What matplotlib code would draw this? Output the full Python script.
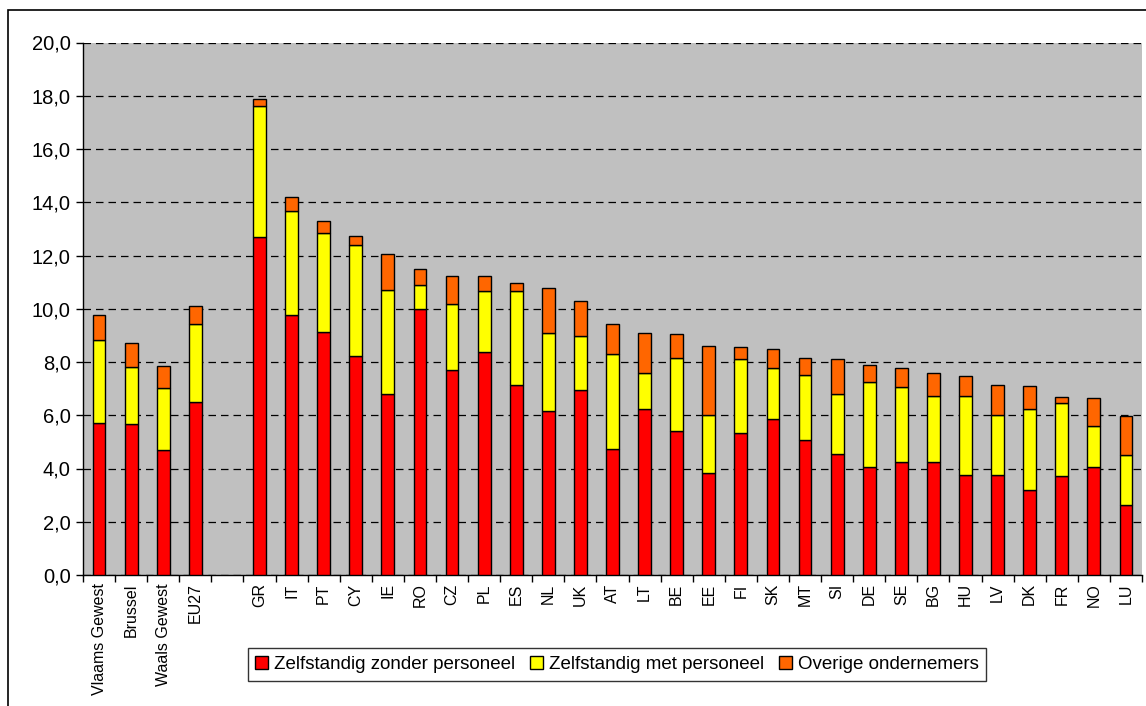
import numpy as np
import matplotlib.pyplot as plt
from matplotlib.patches import Rectangle, Patch
from matplotlib.ticker import FixedLocator

plt.rcParams['font.family'] = ['Liberation Sans', 'DejaVu Sans']

# Gewesten en EU27
regions = ['Vlaams Gewest', 'Brussel', 'Waals Gewest', 'EU27']
reg_zonder = [5.72, 5.66, 4.71, 6.50]
reg_met = [3.09, 2.14, 2.31, 2.93]
reg_overig = [0.95, 0.90, 0.83, 0.67]

# Lidstaten
countries = ['GR', 'IT', 'PT', 'CY', 'IE', 'RO', 'CZ', 'PL', 'ES', 'NL', 'UK', 'AT',
             'LT', 'BE', 'EE', 'FI', 'SK', 'MT', 'SI', 'DE', 'SE', 'BG', 'HU', 'LV',
             'DK', 'FR', 'NO', 'LU']
cty_zonder = [12.69, 9.76, 9.13, 8.24, 6.78, 9.99, 7.71, 8.38, 7.14, 6.17, 6.96, 4.73,
              6.24, 5.41, 3.82, 5.34, 5.85, 5.06, 4.55, 4.04, 4.26, 4.26, 3.77, 3.77,
              3.21, 3.71, 4.04, 2.64]
cty_met = [4.94, 3.92, 3.72, 4.16, 3.93, 0.91, 2.46, 2.29, 3.53, 2.93, 2.03, 3.58,
           1.34, 2.74, 2.19, 2.79, 1.91, 2.46, 2.24, 3.21, 2.81, 2.48, 2.97, 2.24,
           3.04, 2.74, 1.57, 1.86]
cty_overig = [0.23, 0.52, 0.46, 0.34, 1.36, 0.58, 1.07, 0.57, 0.30, 1.69, 1.29, 1.13,
              1.52, 0.90, 2.58, 0.42, 0.74, 0.64, 1.31, 0.62, 0.69, 0.84, 0.74, 1.13,
              0.83, 0.24, 1.03, 1.46]

series_names = ['Zelfstandig zonder personeel', 'Zelfstandig met personeel', 'Overige ondernemers']
colors = ['#FF0000', '#FFFF00', '#FF6600']

# lege categorie tussen de twee groepen
labels = regions + [''] + countries
zonder = np.array(reg_zonder + [np.nan] + cty_zonder)
met = np.array(reg_met + [np.nan] + cty_met)
overig = np.array(reg_overig + [np.nan] + cty_overig)

W, H = 1146, 706
fig = plt.figure(figsize=(W / 100, H / 100), dpi=100)
ax = fig.add_axes([83 / W, 1 - 575 / H, (1142 - 83) / W, (575 - 42.5) / H])
ax.set_facecolor('#C0C0C0')

x = np.arange(len(labels))
bw = 0.4
ax.bar(x, zonder, bw, color=colors[0], edgecolor='black', linewidth=1, zorder=3)
ax.bar(x, met, bw, bottom=zonder, color=colors[1], edgecolor='black', linewidth=1, zorder=3)
ax.bar(x, overig, bw, bottom=zonder + met, color=colors[2], edgecolor='black', linewidth=1, zorder=3)

ax.set_xlim(-0.5, len(labels) - 0.5)
ax.set_ylim(0, 20)

yt = np.arange(0, 21, 2)
ax.set_yticks(yt)
ax.set_yticklabels([f'{v:.1f}'.replace('.', ',') for v in yt], fontsize=14.5)
ax.yaxis.grid(True, linestyle=(0, (6, 4)), color='black', linewidth=0.9, zorder=1)
ax.set_axisbelow(True)

ax.set_xticks(x)
ax.set_xticklabels(labels, rotation=90, fontsize=11.5, va='top')
ax.tick_params(axis='x', which='major', length=0, pad=6)
ax.xaxis.set_minor_locator(FixedLocator(np.arange(-0.5, len(labels), 1)))
ax.tick_params(axis='x', which='minor', length=5, width=1, direction='out')
ax.tick_params(axis='y', length=5, width=1, direction='out', pad=4)

for s in ['top', 'right']:
    ax.spines[s].set_visible(False)
ax.spines['left'].set_linewidth(1)
ax.spines['bottom'].set_linewidth(1)

handles = [Patch(facecolor=c, edgecolor='black', linewidth=1) for c in colors]
leg = fig.legend(handles, series_names, ncol=3, loc='center',
                 bbox_to_anchor=(617 / W, 1 - 664.5 / H), fontsize=13.5,
                 frameon=True, fancybox=False, edgecolor='black',
                 handlelength=0.7, handleheight=0.7, handletextpad=0.3,
                 columnspacing=0.8, borderpad=0.4)
leg.get_frame().set_linewidth(1)

# rand rond de figuur
fig.patches.append(Rectangle((8 / W, -0.1), 1.2, 1.1 - 10 / H, transform=fig.transFigure,
                             fill=False, edgecolor='black', linewidth=1.2))

fig.savefig('out.png', dpi=100)
